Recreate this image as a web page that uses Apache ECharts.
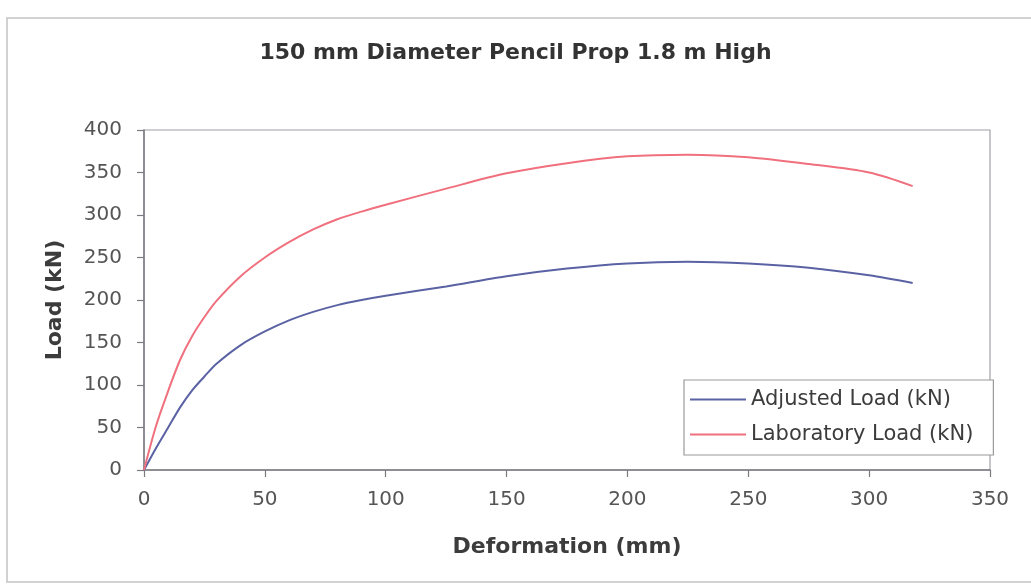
<!DOCTYPE html>
<html>
<head>
<meta charset="utf-8">
<title>150 mm Diameter Pencil Prop 1.8 m High</title>
<script src="https://cdn.jsdelivr.net/npm/echarts@6/dist/echarts.min.js"></script>
<style>
  html, body { margin: 0; padding: 0; background: #ffffff; }
  #chart { width: 1031px; height: 586px; }
</style>
</head>
<body>
<div id="chart"></div>
<script>
// Deformation of the prop (mm)
const deformation = [0, 5, 10, 15, 20, 25, 30, 40, 50, 60, 70, 80, 90, 100, 125, 150, 175, 200, 225, 250, 275, 300, 318];

// Adjusted load (kN)
const adjustedLoad = [0, 26, 50, 74, 94, 110, 125, 147, 163, 176, 186, 194, 200, 205, 216, 228, 237, 243, 245, 243, 238, 229, 220];

// Laboratory load (kN)
const laboratoryLoad = [0, 52, 93, 130, 158, 180, 199, 228, 250, 268, 283, 295, 304, 312, 331, 349, 361, 369, 371, 368, 360, 350, 334];

const seriesNames = ['Adjusted Load (kN)', 'Laboratory Load (kN)'];
const xTicks = [0, 50, 100, 150, 200, 250, 300, 350];
const yTicks = [0, 50, 100, 150, 200, 250, 300, 350, 400];

const pairs = (xs, ys) => xs.map((x, i) => [x, ys[i]]);

const fontFamily = 'DejaVu Sans, Liberation Sans, Arial, sans-serif';
const textColor = '#3c3c3c';
const tickColor = '#555555';
const axisColor = '#7a7a80';
const chart = echarts.init(document.getElementById('chart'));

chart.setOption({
  backgroundColor: '#ffffff',
  animation: false,
  title: {
    text: '150 mm Diameter Pencil Prop 1.8 m High',
    left: 'center',
    top: 37,
    textStyle: { fontFamily, fontSize: 22, fontWeight: 'bold', color: '#333333' }
  },
  graphic: [{
    type: 'rect',
    shape: { x: 7, y: 18, width: 1040, height: 564 },
    style: { fill: 'none', stroke: '#c4c4c4', lineWidth: 1.5 },
    silent: true
  }],
  grid: {
    left: 144, right: 41, top: 130, bottom: 116,
    show: true, borderColor: '#a0a0a8', borderWidth: 1.2, backgroundColor: 'transparent'
  },
  legend: {
    orient: 'vertical',
    left: 684, top: 380,
    data: seriesNames,
    icon: 'rect',
    itemWidth: 56, itemHeight: 2, itemGap: 14,
    padding: [9, 20, 10, 6],
    backgroundColor: '#ffffff',
    borderColor: '#9a9a9a', borderWidth: 1.2,
    textStyle: { fontFamily, fontSize: 21, color: textColor }
  },
  xAxis: {
    type: 'value',
    min: 0, max: 350, interval: 50,
    name: 'Deformation (mm)',
    nameLocation: 'middle',
    nameGap: 66,
    nameTextStyle: { fontFamily, fontSize: 22, fontWeight: 'bold', color: textColor },
    axisLine: { show: true, onZero: false, lineStyle: { color: axisColor, width: 1.5 } },
    axisTick: { show: true, inside: false, length: 7, lineStyle: { color: axisColor, width: 1.2 } },
    axisLabel: {
      fontFamily, fontSize: 20, color: tickColor, margin: 20,
      formatter: v => (xTicks.includes(v) ? String(v) : '')
    },
    splitLine: { show: false }
  },
  yAxis: {
    type: 'value',
    min: 0, max: 400, interval: 50,
    name: 'Load (kN)',
    nameLocation: 'middle',
    nameGap: 78,
    nameRotate: 90,
    nameTextStyle: { fontFamily, fontSize: 22, fontWeight: 'bold', color: textColor },
    axisLine: { show: true, onZero: false, lineStyle: { color: axisColor, width: 1.5 } },
    axisTick: { show: true, inside: false, length: 7, lineStyle: { color: axisColor, width: 1.2 } },
    axisLabel: {
      fontFamily, fontSize: 20, color: tickColor, margin: 22,
      formatter: v => (yTicks.includes(v) ? String(v) : '')
    },
    splitLine: { show: false }
  },
  series: [
    {
      name: seriesNames[0],
      type: 'line',
      data: pairs(deformation, adjustedLoad),
      smooth: 0.3,
      symbol: 'none',
      lineStyle: { color: '#5b62a4', width: 2 },
      itemStyle: { color: '#5b62a4' },
      z: 3
    },
    {
      name: seriesNames[1],
      type: 'line',
      data: pairs(deformation, laboratoryLoad),
      smooth: 0.3,
      symbol: 'none',
      lineStyle: { color: '#f0707e', width: 2 },
      itemStyle: { color: '#f0707e' },
      z: 3
    }
  ]
});
</script>
</body>
</html>
